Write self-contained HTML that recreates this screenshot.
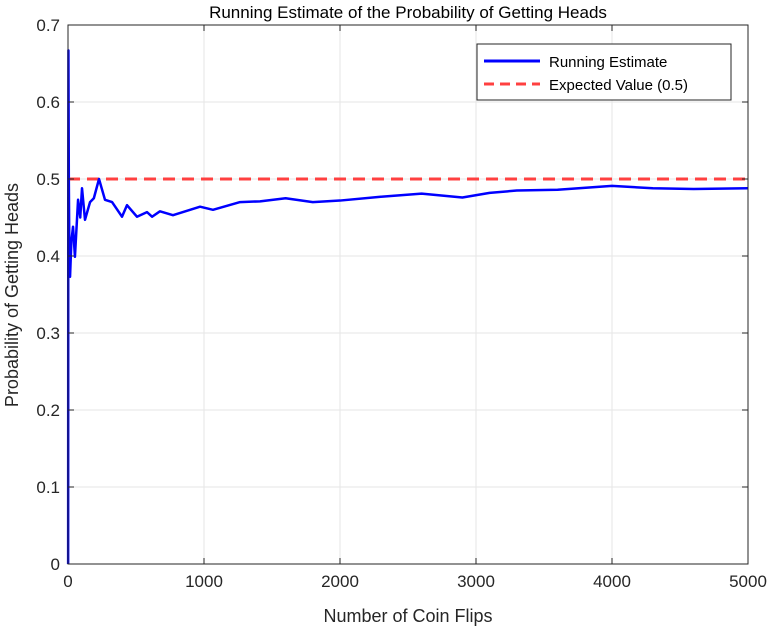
<!DOCTYPE html>
<html><head><meta charset="utf-8"><style>
body{margin:0;background:#fff}
svg{font-family:"Liberation Sans",Arial,sans-serif}
</style></head><body>
<svg id="chart" width="771" height="630">
<rect width="771" height="630" fill="#fff"/>
<g id="grid"></g>
<g id="series"></g>
<g id="axes"></g>
<text x="408" y="18" text-anchor="middle" font-size="17" fill="#000">Running Estimate of the Probability of Getting Heads</text>
<text x="408" y="622" text-anchor="middle" font-size="18" fill="#262626">Number of Coin Flips</text>
<text transform="translate(18,295) rotate(-90)" text-anchor="middle" font-size="18" fill="#262626">Probability of Getting Heads</text>
<g>
<rect x="477" y="44" width="254" height="56" fill="#fff" stroke="#262626" stroke-width="1"/>
<line x1="484" y1="61" x2="540" y2="61" stroke="#0000ff" stroke-width="3"/>
<text x="549" y="67" font-size="15" fill="#000">Running Estimate</text>
<line x1="484" y1="84" x2="540" y2="84" stroke="#ff4040" stroke-width="3" stroke-dasharray="10,6"/>
<text x="549" y="90" font-size="15" fill="#000">Expected Value (0.5)</text>
</g>
</svg>
<script>
const flips=[1,2,3,6,10,15,25,37,51,74,90,103,125,162,190,228,272,324,397,434,507,581,618,676,772,971,1066,1265,1412,1600,1800,2000,2300,2600,2900,3100,3300,3600,4000,4300,4600,5000];
const estimates=[0,0.5,0.667,0.5,0.4,0.373,0.42,0.438,0.399,0.473,0.45,0.488,0.447,0.47,0.475,0.5,0.473,0.47,0.451,0.466,0.451,0.457,0.451,0.458,0.453,0.464,0.46,0.47,0.471,0.475,0.47,0.472,0.477,0.481,0.476,0.482,0.485,0.486,0.491,0.488,0.487,0.488];
const xTicks=[0,1000,2000,3000,4000,5000];
const yTicks=[0,0.1,0.2,0.3,0.4,0.5,0.6,0.7];
const expectedValue=[0.5];
const L=68,R=748,T=25,B=564;
const xs=v=>L+(v/5000)*(R-L);
const ys=v=>B-(v/0.7)*(B-T);
const NS="http://www.w3.org/2000/svg";
function mk(tag,attrs,parent){const e=document.createElementNS(NS,tag);for(const k in attrs)e.setAttribute(k,attrs[k]);parent.appendChild(e);return e;}
const grid=document.getElementById('grid'),axes=document.getElementById('axes'),series=document.getElementById('series');
xTicks.forEach(t=>{
 const g=mk('line',{x1:xs(t),x2:xs(t),y1:T,y2:B,stroke:'#e6e6e6','stroke-width':1},grid);
 
 
 const tk=mk('line',{x1:xs(t),x2:xs(t),y1:B,y2:B-6,stroke:'#262626'},axes);
 
 
 const tk2=mk('line',{x1:xs(t),x2:xs(t),y1:T,y2:T+6,stroke:'#262626'},axes);
 
 
 const tx=mk('text',{x:xs(t),y:B+23,'text-anchor':'middle','font-size':17,fill:'#262626'},axes);
 tx.textContent=t;
 
 
});
yTicks.forEach(t=>{
 const g=mk('line',{x1:L,x2:R,y1:ys(t),y2:ys(t),stroke:'#e6e6e6','stroke-width':1},grid);
 
 
 const tk=mk('line',{x1:L,x2:L+6,y1:ys(t),y2:ys(t),stroke:'#262626'},axes);
 
 
 const tk2=mk('line',{x1:R,x2:R-6,y1:ys(t),y2:ys(t),stroke:'#262626'},axes);
 
 
 const tx=mk('text',{x:L-8,y:ys(t)+6,'text-anchor':'end','font-size':17,fill:'#262626'},axes);
 tx.textContent=String(t);
 
 
});
const frame=mk('rect',{x:L,y:T,width:R-L,height:B-T,fill:'none',stroke:'#262626','stroke-width':1},axes);


const exp=mk('line',{x1:L,x2:R,y1:ys(expectedValue[0]),y2:ys(expectedValue[0]),stroke:'#ff4040','stroke-width':3,'stroke-dasharray':'12,7'},series);


const d=flips.map((f,i)=>(i?'L':'M')+xs(f).toFixed(2)+','+ys(estimates[i]).toFixed(2)).join(' ');
const line=mk('path',{d:d,fill:'none',stroke:'#0000ff','stroke-width':2.5,'stroke-linejoin':'round'},series);


</script>
</body></html>
